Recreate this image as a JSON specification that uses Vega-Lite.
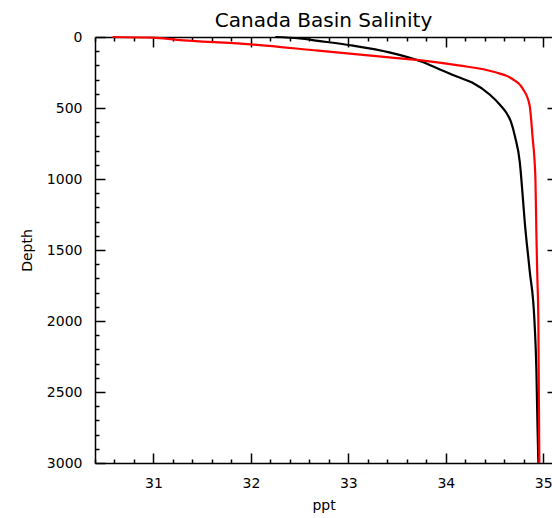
{
  "$schema": "https://vega.github.io/schema/vega-lite/v6.json",
  "autosize": {"type": "none"},
  "width": 457,
  "height": 426,
  "padding": {"left": 95, "top": 37, "right": 0, "bottom": 55},
  "background": "white",
  "title": {"text": "Canada Basin Salinity", "font": "DejaVu Sans", "fontSize": 20, "fontWeight": "normal", "color": "black", "offset": -1, "anchor": "middle"},
  "config": {
    "view": {"stroke": null},
    "axis": {
      "labelFont": "DejaVu Sans", "labelFontSize": 14, "labelColor": "black",
      "titleFont": "DejaVu Sans", "titleFontSize": 14, "titleFontWeight": "normal", "titleColor": "black",
      "domainColor": "black", "domainWidth": 1.5, "tickColor": "black", "tickWidth": 1.5, "grid": false
    }
  },
  "datasets": {
    "obs": [
      {"depth": 0, "sal": 32.25}, {"depth": 10, "sal": 32.5}, {"depth": 27, "sal": 32.69},
      {"depth": 61, "sal": 33.05}, {"depth": 108, "sal": 33.42}, {"depth": 178, "sal": 33.77},
      {"depth": 229, "sal": 33.94}, {"depth": 280, "sal": 34.12}, {"depth": 321, "sal": 34.27},
      {"depth": 405, "sal": 34.45}, {"depth": 480, "sal": 34.56}, {"depth": 532, "sal": 34.62},
      {"depth": 600, "sal": 34.67}, {"depth": 700, "sal": 34.71}, {"depth": 885, "sal": 34.76},
      {"depth": 1125, "sal": 34.79}, {"depth": 1300, "sal": 34.81}, {"depth": 1640, "sal": 34.86},
      {"depth": 2000, "sal": 34.91}, {"depth": 2350, "sal": 34.93}, {"depth": 2700, "sal": 34.94},
      {"depth": 3000, "sal": 34.95}
    ],
    "model": [
      {"depth": 0, "sal": 30.58}, {"depth": 5, "sal": 31.0}, {"depth": 20, "sal": 31.24},
      {"depth": 50, "sal": 31.96}, {"depth": 96, "sal": 32.69}, {"depth": 143, "sal": 33.42},
      {"depth": 166, "sal": 33.77}, {"depth": 200, "sal": 34.13}, {"depth": 247, "sal": 34.5},
      {"depth": 294, "sal": 34.68}, {"depth": 364, "sal": 34.79}, {"depth": 480, "sal": 34.86},
      {"depth": 700, "sal": 34.89}, {"depth": 1000, "sal": 34.92}, {"depth": 1400, "sal": 34.93},
      {"depth": 1700, "sal": 34.94}, {"depth": 2000, "sal": 34.95}, {"depth": 3000, "sal": 34.96}
    ]
  },
  "layer": [
    {
      "data": {"name": "obs"},
      "mark": {"type": "line", "color": "black", "strokeWidth": 2.2, "interpolate": "monotone"},
      "encoding": {
        "x": {"field": "sal", "type": "quantitative",
          "scale": {"domain": [30.4, 35.09], "nice": false, "zero": false},
          "axis": {"orient": "bottom", "title": "ppt", "titlePadding": 2,
            "values": [30.4,30.6,30.8,31,31.2,31.4,31.6,31.8,32,32.2,32.4,32.6,32.8,33,33.2,33.4,33.6,33.8,34,34.2,34.4,34.6,34.8,35],
            "tickSize": {"condition": {"test": "abs(datum.value - round(datum.value)) < 0.001", "value": -10}, "value": -4},
            "labelExpr": "abs(datum.value - round(datum.value)) < 0.001 ? format(datum.value, 'd') : ''",
            "labelPadding": 23, "labelFlush": false, "labelOverlap": false}},
        "y": {"field": "depth", "type": "quantitative",
          "scale": {"domain": [0, 3000], "reverse": true, "nice": false, "zero": false},
          "axis": {"orient": "left", "title": "Depth", "titlePadding": 12,
            "values": [0,100,200,300,400,500,600,700,800,900,1000,1100,1200,1300,1400,1500,1600,1700,1800,1900,2000,2100,2200,2300,2400,2500,2600,2700,2800,2900,3000],
            "tickSize": {"condition": {"test": "datum.value % 500 === 0", "value": -10}, "value": -4},
            "labelExpr": "datum.value % 500 === 0 ? format(datum.value, 'd') : ''",
            "labelPadding": 23, "labelFlush": false, "labelOverlap": false}},
        "order": {"field": "depth", "type": "quantitative"}
      }
    },
    {
      "data": {"name": "model"},
      "mark": {"type": "line", "color": "red", "strokeWidth": 2.2, "interpolate": "monotone"},
      "encoding": {
        "x": {"field": "sal", "type": "quantitative",
          "scale": {"domain": [30.4, 35.09], "nice": false, "zero": false},
          "axis": {"orient": "top", "title": null, "labels": false,
            "values": [30.4,30.6,30.8,31,31.2,31.4,31.6,31.8,32,32.2,32.4,32.6,32.8,33,33.2,33.4,33.6,33.8,34,34.2,34.4,34.6,34.8,35],
            "tickSize": {"condition": {"test": "abs(datum.value - round(datum.value)) < 0.001", "value": -10}, "value": -4}}},
        "y": {"field": "depth", "type": "quantitative",
          "scale": {"domain": [0, 3000], "reverse": true, "nice": false, "zero": false},
          "axis": {"orient": "right", "title": null, "labels": false, "domain": false,
            "values": [500,1000,1500,2000,2500],
            "tickSize": -5}},
        "order": {"field": "depth", "type": "quantitative"}
      }
    }
  ],
  "resolve": {"axis": {"x": "independent", "y": "independent"}}
}
